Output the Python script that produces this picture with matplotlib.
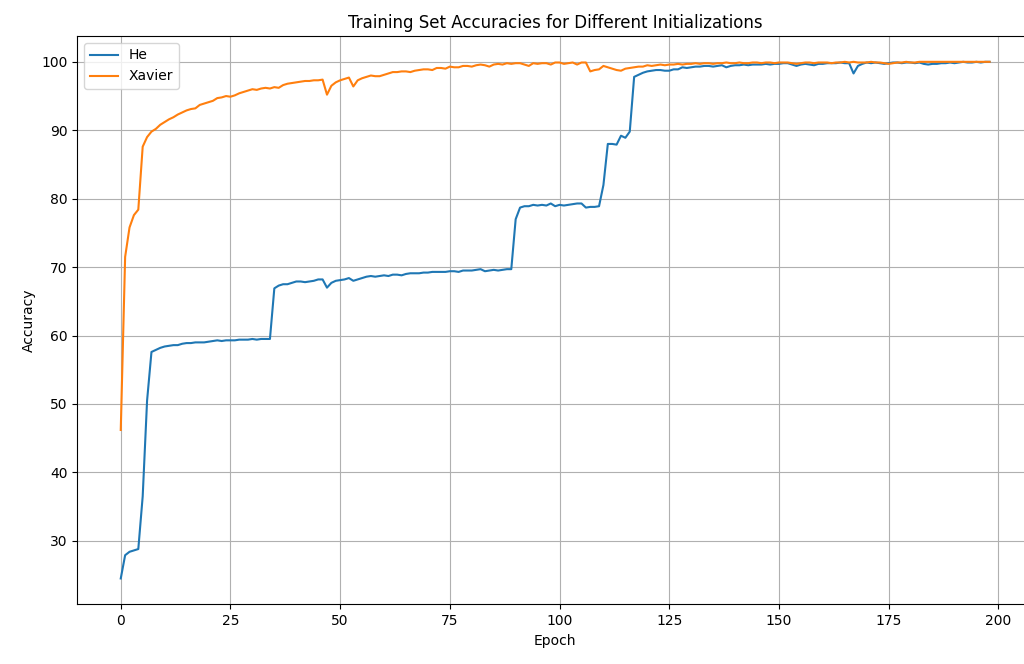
import numpy as np
import matplotlib
matplotlib.use('Agg')
import matplotlib.pyplot as plt

''' Training accuracies per epoch, read off the reference '''
he_acc = [
    24.5, 27.9, 28.4, 28.6, 28.8, 36.5, 50.5, 57.6, 57.9, 58.2,
    58.4, 58.5, 58.6, 58.6, 58.8, 58.9, 58.9, 59.0, 59.0, 59.0,
    59.1, 59.2, 59.3, 59.2, 59.3, 59.3, 59.3, 59.4, 59.4, 59.4,
    59.5, 59.4, 59.5, 59.5, 59.5, 66.9, 67.3, 67.5, 67.5, 67.7,
    67.9, 67.9, 67.8, 67.9, 68.0, 68.2, 68.2, 67.0, 67.7, 68.0,
    68.1, 68.2, 68.4, 68.0, 68.2, 68.4, 68.6, 68.7, 68.6, 68.7,
    68.8, 68.7, 68.9, 68.9, 68.8, 69.0, 69.1, 69.1, 69.1, 69.2,
    69.2, 69.3, 69.3, 69.3, 69.3, 69.4, 69.4, 69.3, 69.5, 69.5,
    69.5, 69.6, 69.7, 69.4, 69.5, 69.6, 69.5, 69.6, 69.7, 69.7,
    77.0, 78.7, 78.9, 78.9, 79.1, 79.0, 79.1, 79.0, 79.3, 78.9,
    79.1, 79.0, 79.1, 79.2, 79.3, 79.3, 78.7, 78.8, 78.8, 78.9,
    82.0, 88.0, 88.0, 87.9, 89.2, 88.9, 89.8, 97.8, 98.1, 98.4,
    98.6, 98.7, 98.8, 98.8, 98.7, 98.7, 98.9, 98.9, 99.2, 99.1,
    99.2, 99.3, 99.3, 99.4, 99.4, 99.3, 99.4, 99.5, 99.2, 99.4,
    99.5, 99.5, 99.6, 99.5, 99.6, 99.6, 99.6, 99.7, 99.6, 99.7,
    99.7, 99.8, 99.8, 99.6, 99.4, 99.6, 99.7, 99.6, 99.5, 99.7,
    99.7, 99.8, 99.8, 99.8, 99.9, 99.8, 99.8, 98.3, 99.4, 99.7,
    99.9, 99.8, 99.9, 99.8, 99.7, 99.8, 99.9, 99.9, 99.8, 99.9,
    99.9, 99.8, 99.9, 99.7, 99.6, 99.7, 99.7, 99.8, 99.8, 99.9,
    99.8, 99.9, 100.0, 99.9, 99.9, 100.0, 99.9, 100.0, 100.0,
]

xavier_acc = [
    46.2, 71.5, 75.8, 77.6, 78.4, 87.6, 89.0, 89.8, 90.2, 90.8,
    91.2, 91.6, 91.9, 92.3, 92.6, 92.9, 93.1, 93.2, 93.7, 93.9,
    94.1, 94.3, 94.7, 94.8, 95.0, 94.9, 95.1, 95.4, 95.6, 95.8,
    96.0, 95.9, 96.1, 96.2, 96.1, 96.3, 96.2, 96.6, 96.8, 96.9,
    97.0, 97.1, 97.2, 97.2, 97.3, 97.3, 97.4, 95.2, 96.5, 97.0,
    97.3, 97.5, 97.7, 96.4, 97.3, 97.6, 97.8, 98.0, 97.9, 97.9,
    98.1, 98.3, 98.5, 98.5, 98.6, 98.6, 98.5, 98.7, 98.8, 98.9,
    98.9, 98.8, 99.1, 99.1, 99.0, 99.3, 99.2, 99.2, 99.4, 99.4,
    99.3, 99.5, 99.6, 99.5, 99.3, 99.6, 99.7, 99.6, 99.8, 99.7,
    99.8, 99.8, 99.6, 99.4, 99.8, 99.7, 99.8, 99.8, 99.6, 99.9,
    99.9, 99.7, 99.8, 99.9, 99.6, 99.9, 99.9, 98.6, 98.8, 98.9,
    99.4, 99.2, 99.0, 98.8, 98.7, 99.0, 99.1, 99.2, 99.3, 99.3,
    99.5, 99.4, 99.5, 99.6, 99.5, 99.6, 99.6, 99.7, 99.6, 99.7,
    99.7, 99.8, 99.7, 99.8, 99.8, 99.7, 99.8, 99.8, 99.9, 99.8,
    99.8, 99.9, 99.8, 99.8, 99.9, 99.9, 99.8, 99.9, 99.9, 99.8,
    99.9, 99.9, 99.9, 99.8, 99.7, 99.8, 99.9, 99.9, 99.8, 99.9,
    99.9, 99.9, 99.8, 99.9, 99.9, 100.0, 99.9, 100.0, 99.9, 99.9,
    99.9, 100.0, 99.9, 99.9, 99.8, 99.7, 99.8, 99.9, 99.9, 100.0,
    99.9, 99.9, 100.0, 100.0, 100.0, 100.0, 100.0, 100.0, 100.0, 100.0,
    100.0, 100.0, 100.0, 100.0, 100.0, 100.0, 100.0, 100.0, 100.0,
]

epochs = np.arange(len(he_acc))

''' Figure; the axes run past the right edge like the cropped reference '''
fig = plt.figure(figsize=(10.24, 6.64), dpi=100)
ax = fig.add_axes([0.0755, 0.0899, 0.9333, 0.8559])

ax.plot(epochs, he_acc, label='He')
ax.plot(epochs, xavier_acc, label='Xavier')

ax.set_title('Training Set Accuracies for Different Initializations')
ax.set_xlabel('Epoch')
ax.set_ylabel('Accuracy')
ax.legend(loc='upper left')
ax.grid(True)

fig.savefig('out.png', dpi=100)
